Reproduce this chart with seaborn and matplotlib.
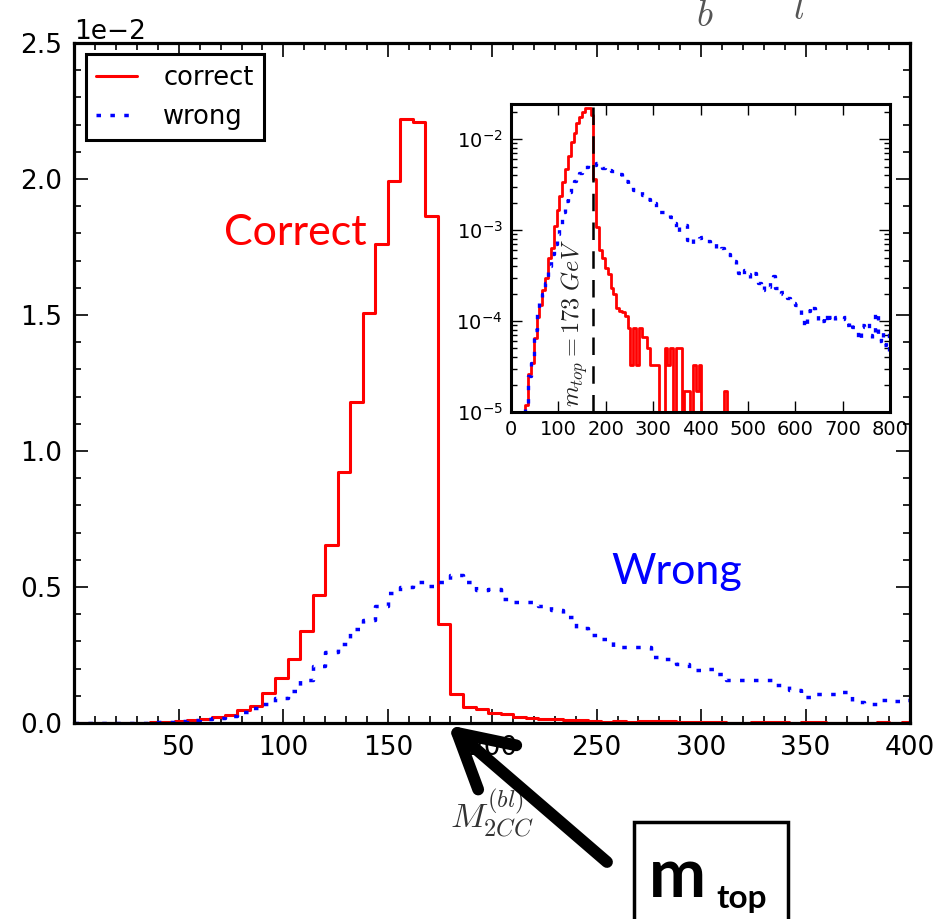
import numpy as np
import pandas as pd
import seaborn as sns
import matplotlib.pyplot as plt
from matplotlib.patches import Rectangle
from matplotlib.ticker import MultipleLocator, LogLocator, NullFormatter

sns.set_style('ticks')
plt.rcParams['mathtext.fontset'] = 'cm'
plt.rcParams['text.color'] = 'black'
plt.rcParams['xtick.color'] = 'black'
plt.rcParams['ytick.color'] = 'black'

# M2CC(bl) histogram binning (GeV), 6 GeV bins
bin_width = 6
bin_range = (0, 804)
bin_centres = np.arange(bin_range[0], bin_range[1], bin_width) + bin_width / 2

# normalised bin heights, in units of 1e-4
correct_counts = [
    0, 0, 0, 0, 0, 0.12, 0.26, 0.35, 0.65, 1.1,
    1.5, 2.2, 3.0, 4.9, 6.4, 11.2, 16.7, 23.6, 33.8, 47.2,
    65.6, 92.4, 118, 150.7, 176.1, 199.4, 222, 221, 186.4, 36.3,
    10.8, 6.0, 5.0, 3.8, 3.3, 2.3, 2.0, 1.4, 1.3, 1.25,
    1.15, 0.83, 0.33, 0.83, 0.33, 0.83, 0.66, 0.66, 0.5, 0.33,
    0.33, 0.33, 0, 0, 0.5, 0.33, 0.5, 0, 0.5, 0.5,
    0, 0.17, 0.17, 0, 0.33, 0.17, 0.33,
    0, 0, 0, 0, 0, 0, 0, 0, 0.17, 0,
    0, 0, 0, 0, 0, 0, 0, 0, 0, 0,
    0, 0, 0, 0, 0, 0, 0, 0, 0, 0,
    0, 0, 0, 0, 0, 0, 0, 0, 0, 0,
    0, 0, 0, 0, 0, 0, 0, 0, 0, 0,
    0, 0, 0, 0, 0, 0, 0, 0, 0, 0,
    0, 0, 0, 0, 0, 0, 0,
]
wrong_counts = [
    0, 0, 0, 0, 0, 0.12, 0.25, 0.35, 0.8, 1.2,
    1.6, 2.0, 2.6, 4.0, 5.5, 7.0, 9.0, 11.7, 15.7, 20.9,
    26, 29, 34.4, 38, 43, 47.8, 50, 52, 50.5, 52,
    54.5, 52, 48.8, 49.4, 45.5, 44.3, 44.5, 43, 41.4, 39,
    35, 32.2, 31, 27.9, 27.9, 27.9, 24.3, 23.7, 21.8, 19.6,
    20, 18.1, 15.9, 15.7, 15.9, 15.7, 13.8, 12, 9.6, 10.8,
    10.8, 11.4, 7.7, 7.1, 8.3, 8.0, 8.3,
    8.5, 8.0, 7.6, 7.0, 7.2, 6.4, 6.0, 6.3, 5.6, 5.4,
    5.0, 4.6, 4.2, 3.4, 3.1, 3.6, 3.3, 3.0, 3.4, 2.9,
    2.6, 2.2, 2.5, 2.4, 2.9, 3.1, 2.3, 2.0, 2.1, 1.9,
    1.8, 1.6, 1.6, 1.5, 1.4, 1.1, 0.85, 1.3, 1.5, 1.4,
    1.2, 0.95, 1.0, 1.2, 0.95, 1.1, 1.0, 1.1, 1.1, 1.05,
    1.1, 0.9, 1.0, 0.85, 0.75, 0.62, 0.9, 0.85, 0.95, 0.7,
    0.65, 1.25, 0.6, 0.75, 0.55, 0.7, 0.45,
]

df = pd.DataFrame({
    'M2CC': bin_centres,
    'correct': np.array(correct_counts) * 1e-4,
    'wrong': np.array(wrong_counts) * 1e-4,
})

dotted = (0, (1.3, 2.7))
hist_kws = dict(data=df, x='M2CC', binwidth=bin_width, binrange=bin_range,
                element='step', fill=False)

fig = plt.figure(figsize=(9.49, 9.19), dpi=100)

# main panel
ax = fig.add_axes([0.0785, 0.2133, 0.8804, 0.740])
sns.histplot(weights='correct', color='red', linewidth=2.2, ax=ax, **hist_kws)
sns.histplot(weights='wrong', color='blue', linewidth=2.5, linestyle=dotted, ax=ax, **hist_kws)
ax.set_xlim(0, 400)
ax.set_ylim(0, 0.025)
ax.set_xticks(range(50, 401, 50))
ax.xaxis.set_minor_locator(MultipleLocator(10))
ax.yaxis.set_major_locator(MultipleLocator(0.005))
ax.yaxis.set_minor_locator(MultipleLocator(0.001))
ax.ticklabel_format(axis='y', style='sci', scilimits=(-2, -2))
ax.yaxis.get_offset_text().set_fontsize(19)
ax.tick_params(which='both', direction='in', top=True, right=True, width=1.2, labelsize=19, pad=9)
ax.tick_params(which='major', length=10)
ax.tick_params(which='minor', length=5)
for s in ax.spines.values():
    s.set_linewidth(2.3)
    s.set_color('black')
ax.set_ylabel('')
ax.set_xlabel(r'$M_{2CC}^{(bl)}$', fontsize=25, color='#333333', labelpad=19)

lines = ax.get_lines()
ax.legend(lines[:2], ['correct', 'wrong'], loc='upper left', fontsize=18.5, frameon=True,
          fancybox=False, edgecolor='black', framealpha=1, handlelength=1.6,
          handletextpad=1.0, borderaxespad=0.45).get_frame().set_linewidth(2.2)

# inset on log scale
axin = fig.add_axes([0.5385, 0.5517, 0.3994, 0.3351])
sns.histplot(weights='correct', color='red', linewidth=2.0, ax=axin, **hist_kws)
sns.histplot(weights='wrong', color='blue', linewidth=2.4, linestyle=dotted, ax=axin, **hist_kws)
axin.set_yscale('log')
axin.set_xlim(0, 800)
axin.set_ylim(1e-5, 0.0244)
axin.set_xticks(range(0, 801, 100))
axin.yaxis.set_minor_locator(LogLocator(base=10, subs=np.arange(2, 10)))
axin.yaxis.set_minor_formatter(NullFormatter())
axin.tick_params(which='both', direction='in', top=True, right=True, width=1.0, labelsize=14, pad=6)
axin.tick_params(which='major', length=8)
axin.tick_params(which='minor', length=4)
for s in axin.spines.values():
    s.set_linewidth(2.2)
    s.set_color('black')
axin.set_xlabel('')
axin.set_ylabel('')
axin.axvline(173, color='black', linewidth=1.8, linestyle=(0, (7, 4.5)))
axin.text(0.168, 0.29, r'$m_{top}=173\ GeV$', transform=axin.transAxes, rotation=90,
          ha='center', va='center', fontsize=17.5, color='#222222')

# slide annotations
fig.text(224 / 949, 1 - 245 / 919, 'Correct', color='red', fontsize=31, family='Lato')
fig.text(611 / 949, 1 - 584 / 919, 'Wrong', color='blue', fontsize=31, family='Lato')

fig.text(696 / 949, 1 - 26 / 919, r'$b$', color='#555555', fontsize=27, va='baseline')
fig.text(793 / 949, 1 - 19 / 919, r'$l^{-}$', color='#555555', fontsize=27, va='baseline')

ax.annotate('', xy=(448, 919 - 725), xycoords='figure pixels',
            xytext=(607, 919 - 862), textcoords='figure pixels',
            arrowprops=dict(arrowstyle='->, head_length=3.8, head_width=2.1', lw=8.5,
                            color='black', shrinkA=0, shrinkB=0, mutation_scale=10,
                            capstyle='round', joinstyle='round'),
            annotation_clip=False)

fig.patches.append(Rectangle((634 / 949, -0.02), 154 / 949, (919 - 822) / 919 + 0.02,
                             transform=fig.transFigure, fill=False, edgecolor='black',
                             linewidth=2.5, figure=fig))
fig.text(649 / 949, 1 - 897 / 919, 'm', fontsize=49, fontweight='bold', family='Lato',
         va='baseline')
fig.text(716 / 949, 1 - 908 / 919, 'top', fontsize=24, fontweight='bold', family='Lato',
         va='baseline')

fig.savefig('out.png', dpi=100)
